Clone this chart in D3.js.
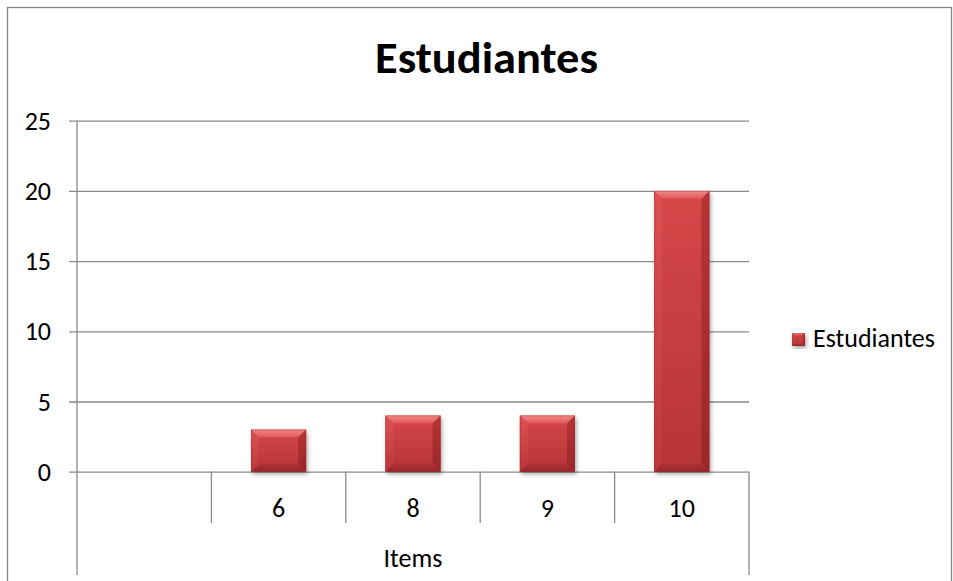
<!DOCTYPE html>
<html>
<head>
<meta charset="utf-8">
<script src="https://cdn.jsdelivr.net/npm/d3@7"></script>
<style>
  html, body { margin: 0; padding: 0; background: #fff; }
  svg { display: block; }
  text { font-family: Carlito, Calibri, Lato, "Open Sans", sans-serif; fill: #000; }
</style>
</head>
<body>
<svg id="chart" width="953" height="581"></svg>
<script>
// Chart data
const chartTitle = "Estudiantes";
const seriesName = "Estudiantes";
const groupLabel = "Items";
const categories = ["", "6", "8", "9", "10"];
const values = [null, 3, 4, 4, 20];
const yTicks = [0, 5, 10, 15, 20, 25];

const W = 953, H = 581;
const plot = { left: 77, right: 749, top: 120.7, bottom: 471.7 };
const gridColor = "#8a8a8a";
const labelSize = "26px";

const svg = d3.select("#chart");
svg.append("rect").attr("width", W).attr("height", H).attr("fill", "#fff");

// Outer chart frame
svg.append("rect")
  .attr("x", 7.5).attr("y", 7.5).attr("width", 944).attr("height", 620)
  .attr("fill", "none").attr("stroke", "#868686").attr("stroke-width", 1.3);

const x = d3.scaleBand().domain(categories).range([plot.left, plot.right]).padding(0);
const y = d3.scaleLinear().domain([0, 25]).range([plot.bottom, plot.top]);

// Gradients and shadow
const defs = svg.append("defs");
function grad(id, stops, vertical = true) {
  const g = defs.append("linearGradient").attr("id", id)
    .attr("x1", 0).attr("y1", 0).attr("x2", vertical ? 0 : 1).attr("y2", vertical ? 1 : 0);
  stops.forEach(([o, c]) => g.append("stop").attr("offset", o).attr("stop-color", c));
}
grad("faceGrad", [[0, "#d6474a"], [1, "#b53437"]]);
grad("topGrad", [[0, "#f48a8b"], [1, "#de5456"]]);
grad("leftGrad", [[0, "#dc5053"], [1, "#bb383a"]]);
grad("rightGrad", [[0, "#b83436"], [1, "#9a2729"]]);
grad("bottomGrad", [[0, "#b03235"], [1, "#962628"]]);
const f = defs.append("filter").attr("id", "shadow")
  .attr("x", "-20%").attr("y", "-10%").attr("width", "150%").attr("height", "130%");
f.append("feDropShadow").attr("dx", 1.5).attr("dy", 2.5).attr("stdDeviation", 2.2)
  .attr("flood-color", "#000").attr("flood-opacity", 0.35);

// Y gridlines + tick labels (axis sits on the right edge, ticks span the plot)
const yAxis = d3.axisLeft(y).tickValues(yTicks).tickSize(plot.right - 69).tickPadding(18);
const gy = svg.append("g").attr("transform", `translate(${plot.right},0)`).call(yAxis);
gy.select(".domain").remove();
gy.selectAll(".tick line").attr("stroke", gridColor).attr("stroke-width", 1.3);
gy.selectAll(".tick text")
  .style("font-size", labelSize).attr("fill", "#000").attr("dy", "0.33em");

// Vertical axis line, continues down as the outer category boundary
svg.append("line")
  .attr("x1", plot.left).attr("x2", plot.left).attr("y1", plot.top).attr("y2", 575)
  .attr("stroke", gridColor).attr("stroke-width", 1.3);
svg.append("line")
  .attr("x1", plot.right).attr("x2", plot.right).attr("y1", plot.bottom).attr("y2", 575)
  .attr("stroke", gridColor).attr("stroke-width", 1.3);

// Inner category boundaries
svg.append("g").selectAll("line")
  .data(categories.slice(1))
  .join("line")
  .attr("x1", d => x(d)).attr("x2", d => x(d))
  .attr("y1", plot.bottom).attr("y2", 523)
  .attr("stroke", gridColor).attr("stroke-width", 1.3);

// Category labels
svg.append("g").selectAll("text")
  .data(categories)
  .join("text")
  .attr("x", d => x(d) + x.bandwidth() / 2)
  .attr("y", 517)
  .attr("text-anchor", "middle")
  .style("font-size", labelSize)
  .text(d => d);

// Outer group label
svg.append("text")
  .attr("x", (plot.left + plot.right) / 2).attr("y", 567)
  .attr("text-anchor", "middle")
  .style("font-size", labelSize)
  .text(groupLabel);

// Bevelled bar drawing
function bevelBar(g, bx, by, bw, bh) {
  const b = Math.min(8, bw / 6, bh / 3);
  g.append("rect").attr("x", bx).attr("y", by).attr("width", bw).attr("height", bh)
    .attr("fill", "url(#faceGrad)").attr("filter", "url(#shadow)");
  const poly = (pts, fill) => g.append("polygon")
    .attr("points", pts.map(p => p.join(",")).join(" ")).attr("fill", fill);
  poly([[bx, by], [bx + bw, by], [bx + bw - b, by + b], [bx + b, by + b]], "url(#topGrad)");
  poly([[bx, by], [bx + b, by + b], [bx + b, by + bh - b], [bx, by + bh]], "url(#leftGrad)");
  poly([[bx + bw, by], [bx + bw - b, by + b], [bx + bw - b, by + bh - b], [bx + bw, by + bh]], "url(#rightGrad)");
  poly([[bx, by + bh], [bx + b, by + bh - b], [bx + bw - b, by + bh - b], [bx + bw, by + bh]], "url(#bottomGrad)");
  g.append("rect").attr("x", bx + 0.5).attr("y", by + 0.5).attr("width", bw - 1).attr("height", bh - 1)
    .attr("fill", "none").attr("stroke", "#8e2224").attr("stroke-opacity", 0.3).attr("stroke-width", 1);
}

const barW = x.bandwidth() * 0.41;
const bars = svg.append("g");
categories.forEach((c, i) => {
  const v = values[i];
  if (v == null) return;
  const bx = x(c) + (x.bandwidth() - barW) / 2;
  bevelBar(bars.append("g"), bx, y(v), barW, y(0) - y(v));
});

// Title
svg.append("text")
  .attr("x", (375 + 598) / 2).attr("y", 73)
  .attr("text-anchor", "middle")
  .style("font-size", "44px").style("font-weight", "bold")
  .attr("textLength", 223).attr("lengthAdjust", "spacingAndGlyphs")
  .text(chartTitle);

// Legend
const lg = svg.append("g");
bevelBar(lg, 792, 333, 13, 13);
lg.append("text")
  .attr("x", 813).attr("y", 347)
  .style("font-size", labelSize)
  .text(seriesName);
</script>
</body>
</html>
